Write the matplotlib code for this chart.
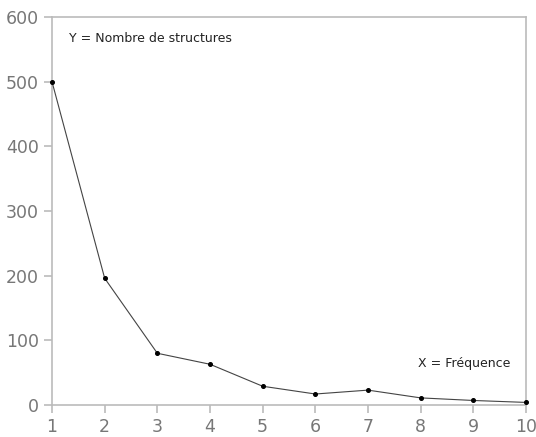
import matplotlib
matplotlib.use('Agg')
import matplotlib.pyplot as plt

# donnees
frequence = [1, 2, 3, 4, 5, 6, 7, 8, 9, 10]
nb_structures = [500, 196, 80, 63, 29, 17, 23, 11, 7, 4]

fig = plt.figure(figsize=(5.36, 4.37), dpi=100)
ax = fig.add_axes([52/536, 32/437, 474/536, 388/437])

ax.plot(frequence, nb_structures, color='#444444', linewidth=0.8,
        marker='o', markersize=2.6, markerfacecolor='black', markeredgecolor='black',
        clip_on=False, zorder=3)

ax.set_xlim(1, 10)
ax.set_ylim(0, 600)
ax.set_xticks(frequence)
ax.set_yticks([0, 100, 200, 300, 400, 500, 600])

for s in ax.spines.values():
    s.set_color('#bbbbbb')
    s.set_linewidth(1.2)
ax.tick_params(colors='#bbbbbb', labelcolor='#777777', labelsize=12.5, length=6, width=1.2)

ax.text(0.035, 0.944, 'Y = Nombre de structures', transform=ax.transAxes,
        fontsize=9, color='#222222', va='center', ha='left')
ax.text(0.968, 0.106, 'X = Fréquence', transform=ax.transAxes,
        fontsize=9, color='#222222', va='center', ha='right')

fig.savefig('out.png', dpi=100)
